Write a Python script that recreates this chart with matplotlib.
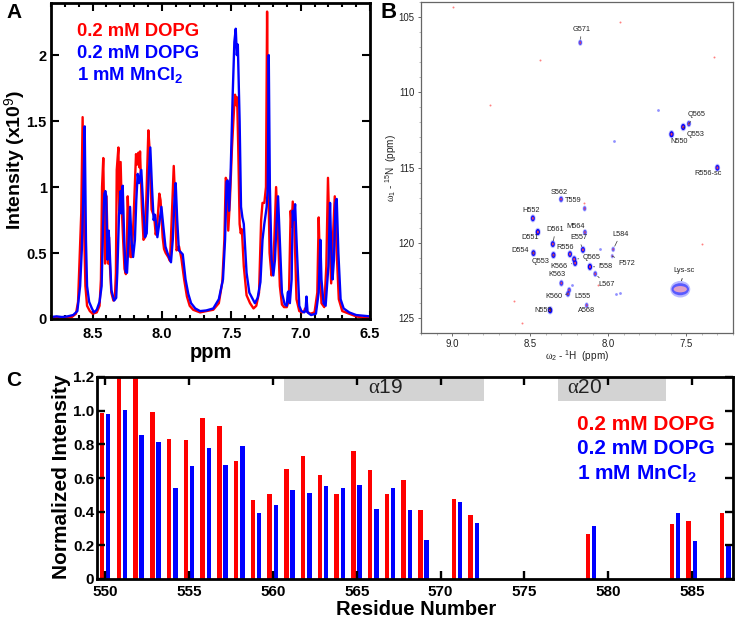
import matplotlib
matplotlib.use("Agg")
import matplotlib.pyplot as plt
from matplotlib.markers import MarkerStyle
from matplotlib.patches import Ellipse
from matplotlib.ticker import MultipleLocator
from matplotlib.transforms import Affine2D
import numpy as np

plt.rcParams['font.family'] = ['Liberation Sans', 'DejaVu Sans']
plt.rcParams['mathtext.fontset'] = 'custom'
plt.rcParams['mathtext.rm'] = 'Liberation Sans'
plt.rcParams['mathtext.bf'] = 'Liberation Sans:bold'
plt.rcParams['mathtext.it'] = 'Liberation Serif'

RED = '#ff0000'
BLUE = '#0000ff'
W, H = 735, 618

# ---------- Panel A: 1D spectra ----------
red_ppm = [8.80,8.75,8.70,8.65,8.62,8.605,8.592,8.582,8.572,8.562,8.552,8.54,8.52,8.50,8.47,8.45,8.44,8.432,8.423,8.415,8.41,8.40,8.393,8.388,8.382,8.375,8.365,8.35,8.34,8.332,8.326,8.314,8.308,8.298,8.29,8.28,8.27,8.26,8.253,8.247,8.238,8.228,8.218,8.205,8.187,8.18,8.17,8.163,8.158,8.145,8.133,8.122,8.11,8.098,8.09,8.075,8.065,8.057,8.045,8.035,8.019,8.01,7.995,7.985,7.973,7.955,7.942,7.93,7.915,7.905,7.895,7.885,7.877,7.86,7.84,7.82,7.80,7.775,7.725,7.68,7.63,7.59,7.565,7.55,7.54,7.532,7.522,7.51,7.495,7.48,7.473,7.465,7.458,7.45,7.44,7.432,7.424,7.41,7.39,7.365,7.34,7.32,7.30,7.285,7.275,7.262,7.25,7.242,7.234,7.224,7.21,7.20,7.19,7.177,7.165,7.15,7.135,7.12,7.10,7.085,7.072,7.065,7.057,7.045,7.03,7.01,6.99,6.975,6.968,6.96,6.93,6.90,6.88,6.87,6.862,6.85,6.83,6.815,6.803,6.79,6.78,6.768,6.754,6.742,6.725,6.70,6.65,6.60,6.55,6.50]
red_int = [.005,.012,.008,.015,.04,.13,.5,.8,1.53,.72,.25,.1,.06,.04,.05,.1,.3,1.0,1.22,.62,.42,.93,.62,.42,.62,.4,.2,.14,.15,.35,1.13,1.30,.82,1.19,.85,.6,.38,.34,.55,.93,.7,.47,.47,.75,1.25,1.17,1.26,1.15,1.27,.85,.60,.62,1.0,1.43,1.3,.83,.8,.79,.64,.7,.95,.9,.62,.53,.50,.47,.44,.75,1.16,.9,.52,.54,.55,.46,.3,.17,.1,.07,.05,.06,.07,.12,.28,.6,1.07,1.05,.67,.9,1.3,1.6,1.70,1.62,1.68,1.3,.72,.65,.68,.4,.18,.12,.08,.1,.2,.75,.88,.88,1.0,2.33,1.1,.5,.33,.4,.6,1.0,.7,.25,.11,.09,.09,.14,.82,.7,.89,.7,.15,.06,.05,.06,.08,.06,.04,.05,.2,.77,.45,.12,.09,.4,1.07,.55,.27,.6,.93,.55,.15,.06,.04,.02,.01,.01]
blue_ppm = [8.80,8.76,8.72,8.68,8.64,8.61,8.59,8.578,8.568,8.557,8.548,8.54,8.525,8.505,8.49,8.47,8.45,8.435,8.425,8.415,8.408,8.402,8.393,8.384,8.376,8.365,8.345,8.33,8.322,8.31,8.298,8.292,8.283,8.272,8.262,8.252,8.24,8.23,8.22,8.208,8.195,8.185,8.175,8.165,8.149,8.135,8.122,8.11,8.095,8.084,8.072,8.06,8.05,8.042,8.033,8.02,8.004,7.99,7.975,7.96,7.935,7.922,7.91,7.901,7.89,7.878,7.868,7.85,7.83,7.81,7.79,7.76,7.725,7.68,7.63,7.59,7.56,7.545,7.534,7.526,7.516,7.505,7.49,7.478,7.468,7.46,7.453,7.44,7.43,7.42,7.41,7.39,7.37,7.35,7.33,7.31,7.29,7.275,7.262,7.245,7.237,7.23,7.222,7.21,7.197,7.185,7.175,7.163,7.15,7.135,7.115,7.10,7.093,7.087,7.078,7.065,7.057,7.05,7.04,7.028,7.01,6.995,6.975,6.965,6.958,6.95,6.925,6.89,6.87,6.858,6.85,6.835,6.82,6.80,6.788,6.78,6.77,6.76,6.748,6.74,6.728,6.712,6.69,6.65,6.60,6.55,6.50]
blue_int = [.015,.02,.015,.02,.03,.06,.25,.52,.9,1.46,.6,.25,.13,.08,.05,.07,.13,.25,.7,.95,.97,.93,.45,.67,.5,.22,.14,.16,.35,.78,.97,.8,1.01,.6,.36,.35,.6,.85,.6,.47,.6,.9,1.10,1.03,1.13,.85,.62,.65,1.1,1.30,1.0,.75,.79,.72,.62,.72,.85,.7,.55,.5,.43,.6,.9,1.03,.75,.52,.51,.49,.3,.19,.12,.08,.06,.065,.08,.15,.3,.6,1.04,1.05,.82,1.1,1.7,2.1,2.2,2.0,2.08,1.5,.85,.77,.72,.35,.2,.16,.12,.16,.28,.6,.72,.85,1.0,2.0,1.0,.45,.33,.45,.7,.93,.6,.2,.11,.1,.2,.21,.12,.3,.82,.75,.87,.55,.1,.06,.05,.06,.17,.05,.03,.04,.2,.6,.3,.12,.1,.4,.88,.55,.3,.45,.88,.91,.5,.15,.08,.05,.03,.025,.02]
a_xticks = [8.5, 8.0, 7.5, 7.0, 6.5]
a_yticks = [0, 0.5, 1, 1.5, 2]
a_yticklabels = ['0', '0.5', '1', '1.5', '2']

# ---------- Panel B: 2D HSQC ----------
peak_names = ['S562','T559','H552','D551','D561','M564','E557','L584','F572','D554','Q553','R556','Q565','K566','I558','L567','K563','K560','L555','A568','N559','G571','Q565','Q553','N550','R556-sc']
peak_h = [8.302,8.151,8.483,8.451,8.355,8.149,8.162,7.968,7.974,8.479,8.351,8.245,8.218,8.212,8.117,8.083,8.300,8.258,8.250,8.138,8.372,8.179,7.483,7.519,7.594,7.300]
peak_n = [117.11,117.73,118.38,119.29,120.09,119.31,120.47,120.44,120.89,120.69,120.82,120.76,121.10,121.35,121.60,122.07,122.69,123.40,123.15,124.16,124.49,106.70,112.09,112.31,112.79,115.02]
peak_strength = [.7,.5,.9,1,.9,.6,.9,.45,.3,.9,.9,.9,.9,.9,1,.6,.7,.7,.6,.5,1,.6,.7,1,1,.9]
label_h = [8.313,8.223,8.496,8.502,8.338,8.209,8.191,7.921,7.883,8.566,8.432,8.277,8.109,8.313,8.019,8.013,8.328,8.351,8.166,8.138,8.419,8.172,7.434,7.440,7.547,7.360]
label_n = [116.64,117.22,117.84,119.67,119.13,118.93,119.67,119.44,121.36,120.53,121.24,120.33,120.98,121.56,121.60,122.78,122.13,123.56,123.56,124.53,124.49,105.84,111.49,112.81,113.30,115.38]
has_leader = [0,0,0,0,1,0,1,1,1,1,1,0,1,1,1,1,0,1,0,0,0,1,1,1,0,0]
red_spot_h = [8.996,7.923,8.440,8.757,7.323,8.551,8.606,7.400,8.066,8.153]
red_spot_n = [104.32,105.31,107.85,110.82,107.63,125.33,123.87,120.11,122.78,117.33]
faint_h = [7.964,7.681,8.230,7.947,7.926,8.053]
faint_n = [113.26,111.18,122.80,123.40,123.36,120.40]
lys_h, lys_n = 7.538, 123.09
lys_widths = [0.128, 0.112, 0.085]
lys_heights = [1.10, 0.80, 0.42]
lys_colors = ['#b9b9ff', '#5a5aff', '#e0a0c8']

# ---------- Panel C: bars ----------
residues = [550,551,552,553,554,555,556,557,558,559,560,561,562,563,564,565,566,567,568,569,571,572,579,584,585,587]
red_vals = [.986,1.25,1.25,.99,.83,.827,.954,.91,.70,.468,.506,.653,.728,.62,.504,.762,.645,.504,.587,.409,.476,.381,.268,.325,.347,.39]
blue_vals = [.978,1.006,.855,.813,.54,.67,.776,.679,.79,.39,.442,.53,.51,.555,.54,.56,.415,.54,.409,.234,.46,.335,.313,.39,.224,.196]
c_xticks = [550,555,560,565,570,575,580,585]
c_yticks = [0,.2,.4,.6,.8,1.0,1.2]
c_yticklabels = ['0','0.2','0.4','0.6','0.8','1.0','1.2']
helix_names = [r'$\alpha$19', r'$\alpha$20']
helix_start = [560.67, 576.99]
helix_end = [572.62, 583.45]
helix_label_x = [566.7, 578.6]
legend_lines = ['0.2 mM DOPG', '0.2 mM DOPG', r'1 mM MnCl$\mathbf{_2}$']
legend_colors = [RED, BLUE, BLUE]


def axes_px(fig, left, top, right, bottom):
    return fig.add_axes([left / W, 1 - bottom / H, (right - left) / W, (bottom - top) / H])


fig = plt.figure(figsize=(W / 100, H / 100), dpi=100)

# ---- A ----
ax = axes_px(fig, 51, 3, 370, 319)
ax.plot(red_ppm, red_int, color=RED, lw=1.7, solid_joinstyle='round')
ax.plot(blue_ppm, blue_int, color=BLUE, lw=1.7, solid_joinstyle='round')
ax.set_xlim(8.8, 6.5)
ax.set_ylim(0, 2.395)
ax.set_xticks(a_xticks)
ax.set_xticklabels(['%.1f' % v for v in a_xticks], fontsize=10.5, fontweight='bold')
ax.set_yticks(a_yticks)
ax.set_yticklabels(a_yticklabels, fontsize=10.5, fontweight='bold')
ax.xaxis.set_minor_locator(MultipleLocator(0.1))
ax.tick_params(which='major', direction='in', top=True, right=True, length=6, width=1.5)
ax.tick_params(axis='x', which='major', pad=6)
ax.tick_params(axis='y', which='major', pad=3)
ax.tick_params(which='minor', axis='x', direction='in', top=True, length=3, width=1.5)
for s in ax.spines.values():
    s.set_linewidth(2)
fig.text(211 / W, 1 - 352 / H, 'ppm', fontsize=14.5, fontweight='bold', ha='center', va='center')
fig.text(15.5 / W, 1 - 160 / H, r'Intensity (x10$^{9}$)', fontsize=14, fontweight='bold', rotation=90, ha='center', va='center')
for txt, col, y in zip(legend_lines, legend_colors, [32, 53, 75]):
    fig.text(77 / W, 1 - y / H, txt, color=col, fontsize=13.3, fontweight='bold', va='center', ha='left')

# ---- B ----
bx = axes_px(fig, 421, 2, 733, 333)
bx.set_xlim(9.2, 7.2)
bx.set_ylim(126, 104)
oval = MarkerStyle('o', transform=Affine2D().scale(0.72, 1.05))
bx.scatter(red_spot_h, red_spot_n, s=2, color='#ff8080', linewidths=0, zorder=2)
bx.scatter(faint_h, faint_n, s=4, color='#9090ff', linewidths=0, zorder=2)
strength = np.array(peak_strength)
bx.scatter(peak_h, peak_n, s=34 * strength, marker=oval, color='#a0a0ff', linewidths=0, alpha=0.7, zorder=3)
bx.scatter(peak_h, peak_n, s=18 * strength, marker=oval, color=BLUE, alpha=strength, linewidths=0, zorder=4)
bx.scatter(peak_h, peak_n, s=4 * strength, marker=oval, color='#e04060', linewidths=0, zorder=5)
for w, h, c in zip(lys_widths, lys_heights, lys_colors):
    bx.add_patch(Ellipse((lys_h, lys_n), w, h, facecolor=c, edgecolor='none', zorder=4))
bx.annotate('Lys-sc', xy=(lys_h, lys_n - 0.3), xytext=(7.511, 121.87), fontsize=5.3, color='#222222',
            ha='center', va='center', arrowprops=dict(arrowstyle='-', lw=0.6, color='#222222', shrinkA=1, shrinkB=0))
for name, ph, pn, lh, ln, lead in zip(peak_names, peak_h, peak_n, label_h, label_n, has_leader):
    props = dict(arrowstyle='-', lw=0.5, color='#333333', shrinkA=0.5, shrinkB=2.5) if lead else None
    bx.annotate(name, xy=(ph, pn), xytext=(lh, ln), fontsize=5.3, color='#222222', ha='center', va='center',
                arrowprops=props, zorder=6)
bx.set_xticks([9.0, 8.5, 8.0, 7.5])
bx.set_yticks([105, 110, 115, 120, 125])
bx.xaxis.set_minor_locator(MultipleLocator(0.1))
bx.yaxis.set_minor_locator(MultipleLocator(1))
bx.tick_params(which='major', length=2.5, width=0.6, labelsize=6.9, color='#555555', labelcolor='#222222', pad=2)
bx.tick_params(which='minor', length=1.2, width=0.4, color='#888888')
for s in ['left', 'bottom', 'top', 'right']:
    bx.spines[s].set_linewidth(0.9)
    bx.spines[s].set_color('#666666')
fig.text(577 / W, 1 - 356 / H, r'$\omega_2$ - $^{1}$H  (ppm)', fontsize=7.2, color='#222222', ha='center', va='center')
fig.text(391 / W, 1 - 168 / H, r'$\omega_1$ - $^{15}$N  (ppm)', fontsize=7.2, color='#222222', rotation=90, ha='center', va='center')

# ---- C ----
cx = axes_px(fig, 97, 377, 733, 579)
res = np.array(residues)
bar_w = 0.27
cx.bar(res - 0.2, red_vals, width=bar_w, color=RED, linewidth=0, zorder=1)
cx.bar(res + 0.17, blue_vals, width=bar_w, color=BLUE, linewidth=0, zorder=1)
cx.set_xlim(549.5, 587.45)
cx.set_ylim(0, 1.2)
for name, a, b, lx in zip(helix_names, helix_start, helix_end, helix_label_x):
    cx.axvspan(a, b, ymin=0.883, ymax=1, color='#d3d3d3', linewidth=0, zorder=0.5)
    cx.text(lx, 1.135, name, fontsize=15, ha='center', va='center', color='#222222')
cx.set_xticks(c_xticks)
cx.set_xticklabels([str(v) for v in c_xticks], fontsize=11, fontweight='bold')
cx.set_yticks(c_yticks)
cx.set_yticklabels(c_yticklabels, fontsize=11, fontweight='bold')
cx.tick_params(which='major', direction='in', top=True, right=True, length=6, width=1.7)
cx.tick_params(axis='x', which='major', pad=4.5)
cx.tick_params(axis='y', which='major', pad=2)
for s in cx.spines.values():
    s.set_linewidth(2)
fig.text(416 / W, 1 - 609.5 / H, 'Residue Number', fontsize=14.5, fontweight='bold', ha='center', va='center')
fig.text(62 / W, 1 - 477 / H, 'Normalized Intensity', fontsize=15, fontweight='bold', rotation=90, ha='center', va='center')
for txt, col, y in zip(legend_lines, legend_colors, [425, 449, 474]):
    fig.text(577 / W, 1 - y / H, txt, color=col, fontsize=15, fontweight='bold', va='center', ha='left')

# ---- panel letters ----
fig.text(14 / W, 1 - 13 / H, 'A', fontsize=15, fontweight='bold', ha='center', va='center')
fig.text(388.5 / W, 1 - 13 / H, 'B', fontsize=16, fontweight='bold', ha='center', va='center')
fig.text(14 / W, 1 - 380 / H, 'C', fontsize=15, fontweight='bold', ha='center', va='center')

fig.savefig('out.png', dpi=100)
